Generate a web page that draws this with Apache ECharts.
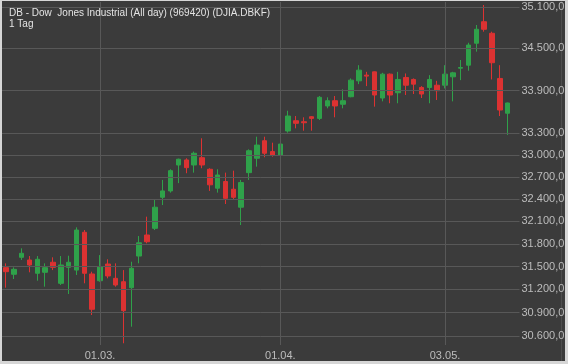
<!DOCTYPE html>
<html><head><meta charset="utf-8">
<script src="https://cdn.jsdelivr.net/npm/echarts@6/dist/echarts.min.js"></script>
<style>html,body{margin:0;padding:0;background:#d6d6d6;}#c{width:568px;height:364px;}</style>
</head><body><div id="c"></div>
<script>
const dates = ['10.02.','11.02.','12.02.','16.02.','17.02.','18.02.','19.02.','22.02.','23.02.','24.02.','25.02.','26.02.',
 '01.03.','02.03.','03.03.','04.03.','05.03.','08.03.','09.03.','10.03.','11.03.','12.03.','15.03.','16.03.','17.03.','18.03.','19.03.','22.03.','23.03.','24.03.','25.03.','26.03.','29.03.','30.03.','31.03.',
 '01.04.','05.04.','06.04.','07.04.','08.04.','09.04.','12.04.','13.04.','14.04.','15.04.','16.04.','19.04.','20.04.','21.04.','22.04.','23.04.','26.04.','27.04.','28.04.','29.04.','30.04.',
 '03.05.','04.05.','05.05.','06.05.','07.05.','10.05.','11.05.','12.05.','13.05.'];
const opens  = [31485,31398,31621,31586,31411,31424,31556,31280,31489,31453,31953,31402,31314,31533,31345,31301,31223,31638,31917,32006,32423,32509,32863,32932,32863,32963,32804,32546,32637,32532,32289,32758,32955,33197,33047,33000,33332,33475,33461,33531,33508,33682,33756,33706,33812,34037,34118,34165,33794,34132,33868,34085,34057,33943,33943,33975,33975,34094,34217,34260,34575,34887,34719,34071,33580];
const highs  = [31542,31489,31740,31638,31638,31542,31621,31638,31642,32019,31983,31432,31651,31595,31542,31453,31563,31903,32162,32386,32659,32804,32950,32955,33047,33231,32818,32804,32758,32785,32659,33078,33253,33253,33170,33180,33615,33541,33523,33541,33822,33804,33822,33916,34071,34260,34165,34170,34151,34141,34165,34142,34071,33962,34118,34037,34260,34165,34334,34582,34839,35131,34742,34260,33730];
const lows   = [31223,31336,31586,31424,31314,31236,31453,31258,31141,31389,31280,30869,31301,31345,31236,30507,30719,31542,31806,31983,32318,32486,32615,32750,32758,32818,32509,32486,32332,32386,32050,32659,32840,32969,32977,32970,33309,33369,33336,33336,33485,33649,33523,33649,33804,33990,33962,33672,33747,33720,33720,33836,33850,33794,33720,33766,33929,33747,34047,34181,34454,34742,34057,33541,33277];
const closes = [31432,31463,31674,31520,31595,31485,31489,31520,31556,31983,31411,30943,31498,31376,31258,30925,31477,31813,31827,32289,32509,32785,32942,32826,33024,32863,32592,32726,32409,32423,32623,33059,33137,33024,33000,33151,33541,33439,33447,33508,33804,33756,33682,33756,34047,34189,34104,33836,34132,33836,34057,33975,33990,33850,34057,33897,34132,34151,34227,34549,34777,34777,34295,33625,33724];
const yTicks = [30600,30900,31200,31500,31800,32100,32400,32700,33000,33300,33900,34500,35100];
const xLabelDates = ['01.03.','01.04.','03.05.'];
const lastPrice = 33724;
const titleText = 'DB - Dow  Jones Industrial (All day) (969420) (DJIA.DBKF)';
const subTitle = '1 Tag';

function fmt(v){
  const t = Math.floor(v/1000), r = Math.round(v%1000);
  return t + '.' + String(r).padStart(3,'0') + ',0';
}
const candleData = dates.map((d,i)=>[opens[i],closes[i],lows[i],highs[i]]);
const FONT = 'Arial, "Liberation Sans", sans-serif';

const chart = echarts.init(document.getElementById('c'), null, {renderer:'canvas'});
chart.setOption({
  animation:false,
  backgroundColor:'#d6d6d6',
  textStyle:{fontFamily:FONT},
  graphic:[
    {type:'rect', z:-10, shape:{x:2,y:1,width:563,height:360}, style:{fill:'#3b3b3b'}, silent:true},
    {type:'line', z:-9, shape:{x1:561.5,y1:1,x2:561.5,y2:361}, style:{stroke:'#4e4e4e',lineWidth:1}, silent:true}
  ],
  title:{text:titleText+'\n'+subTitle,left:4,top:3,
    textStyle:{color:'#e4e4e4',fontSize:10,fontWeight:'normal',lineHeight:11,fontFamily:FONT}},
  grid:{left:2,top:2,width:517.5,height:343,containLabel:false},
  xAxis:{type:'category',data:dates.concat(['']),boundaryGap:true,
    axisLine:{show:false},axisTick:{show:false},splitLine:{show:false},
    axisLabel:{interval:(idx,val)=>xLabelDates.includes(val),color:'#bcbcbc',fontSize:11,margin:5,fontFamily:FONT}},
  yAxis:{type:'log',min:30485.3,max:35175,show:true,
    axisLine:{show:false},axisTick:{show:false},axisLabel:{show:false},splitLine:{show:false}},
  series:[{
    type:'candlestick',
    data:candleData,
    barWidth:5,
    itemStyle:{color:'#2fa14a',color0:'#dc3232',borderColor:'#2fa14a',borderColor0:'#dc3232',borderWidth:1},
    markLine:{
      silent:true,symbol:['none','none'],animation:false,
      data:[
        ...yTicks.map(v=>({yAxis:v,lineStyle:{color:'#585858',width:1,type:'solid'},
          label:{show:true,position:'end',distance:2,formatter:fmt(v),color:'#bcbcbc',fontSize:11,fontFamily:FONT}})),
        ...xLabelDates.map(d=>({xAxis:d,lineStyle:{color:'#585858',width:1,type:'solid'},label:{show:false}})),
        {yAxis:lastPrice,lineStyle:{opacity:0},
          label:{show:true,position:'end',distance:2,formatter:fmt(lastPrice),color:'#000',backgroundColor:'#ffff00',
            padding:[1,1,0,1],fontSize:11,fontFamily:FONT}}
      ]
    }
  }]
});
</script></body></html>
